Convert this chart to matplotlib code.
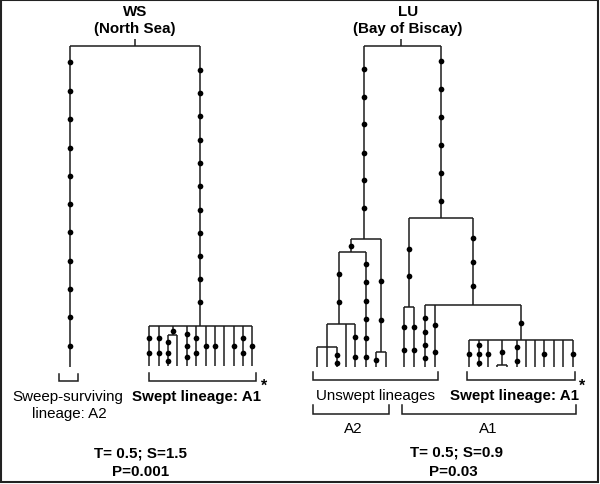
import matplotlib
matplotlib.use("Agg")
import matplotlib.pyplot as plt
from matplotlib.patches import Rectangle

plt.rcParams['font.family'] = ['Liberation Sans', 'DejaVu Sans']

# ---------------- WS (North Sea) tree ----------------
ws_vlines = [  # (x, y_top, y_bottom)
    (135, 40, 47), (70, 47, 368), (200, 47, 327),
    (149, 327, 367), (158.5, 327, 367), (172.5, 327, 335.7),
    (168, 335.7, 367), (177.3, 335.7, 367),
    (186.5, 327, 367), (196, 327, 367), (205.5, 327, 367), (215, 327, 367),
    (224.3, 327, 367), (233.5, 327, 367), (243, 327, 367), (252.3, 327, 367),
]
ws_hlines = [  # (y, x_left, x_right)
    (47, 70, 200), (327, 149, 252.3), (335.7, 168, 177.3),
]
ws_dots = {
    70: [63, 92, 120, 149, 177, 205, 233, 262, 290, 318, 347],
    200: [71, 94, 117, 141, 164, 187, 211, 234, 257, 280, 303],
    149: [339, 354], 158.5: [339, 354], 168: [343.3, 353.7, 362.3],
    172.5: [331.7], 186.5: [335, 346.7, 357.7], 196: [339, 354],
    205.5: [347], 215: [347], 233.5: [347], 243: [339, 354], 252.3: [347],
}

# ---------------- LU (Bay of Biscay) tree ----------------
lu_vlines = [
    (400.7, 40, 47), (364, 47, 240), (440.7, 47, 219.3),
    (350.7, 240, 253.3), (381, 240, 353.3), (376, 353.3, 368.3), (386, 353.3, 368.3),
    (339.3, 253.3, 325), (366, 253.3, 368.3),
    (326.7, 325, 368.3), (317.3, 348.3, 368.3), (336.7, 348.3, 368.3),
    (345.7, 325, 368.3), (355, 325, 368.3),
    (409.3, 219.3, 307.7), (404.3, 307.7, 368.3), (414.3, 307.7, 368.3),
    (473, 219.3, 305.7), (425, 305.7, 368.3), (435, 305.7, 368.3),
    (520.7, 305.7, 340.5),
    (469.3, 340.5, 368.3), (479, 340.5, 368.3), (487.7, 340.5, 368.3),
    (502.3, 340.5, 365.7), (497.3, 365.7, 368.3), (507.3, 365.7, 368.3),
    (516.7, 340.5, 368.3), (525.7, 340.5, 368.3), (535, 340.5, 368.3),
    (544, 340.5, 368.3), (553.7, 340.5, 368.3), (563, 340.5, 368.3),
    (572.7, 340.5, 368.3),
]
lu_hlines = [
    (47, 364, 440.7), (240, 350.7, 381), (219.3, 409.3, 473),
    (253.3, 339.3, 366), (353.3, 376, 386), (325, 326.7, 355),
    (348.3, 317.3, 336.7), (307.7, 404.3, 414.3), (305.7, 425, 520.7),
    (340.5, 469.3, 572.7), (365.7, 497.3, 507.3),
]
lu_dots = {
    364: [69.7, 97.7, 125, 153.7, 181.3, 209.3],
    440.7: [61.7, 90, 117.7, 145.7, 174, 202],
    350.7: [247.3], 381: [281.7, 320.7], 376: [361],
    339.3: [275, 302.7], 366: [264.7, 283.3, 302.3, 320, 338.7, 357.7],
    355: [337.5, 358.3], 336.7: [355.7, 364.3],
    409.3: [250, 276.7], 404.3: [327.7, 351], 414.3: [327.7, 351],
    473: [239, 262.7, 286.7], 425: [319.3, 332.7, 345.7, 359], 435: [325.7, 353.3],
    520.7: [324], 469.3: [355.3], 479: [345.7, 355.3, 364.3], 487.7: [355.3],
    502.3: [353.3], 516.7: [348.3, 361.5], 544: [355.3], 572.7: [355.3],
}

# brackets: (x_left, x_right, y_top, y_bottom)
brackets = [
    (59.3, 77.7, 375, 381.7), (149, 256, 374, 381.7),
    (313.3, 438.3, 372.7, 380.7), (466.7, 575, 372.7, 380.7),
    (313.3, 389.3, 405.7, 415), (401.7, 576, 405.7, 415),
]

# texts: (x, y, string, bold)
texts = [
    (135, 11.5, "WS", True), (135, 29.5, "(North Sea)", True),
    (407.7, 11.5, "LU", True), (407.7, 29.5, "(Bay of Biscay)", True),
    (68, 397, "Sweep-surviving", False), (69, 414.5, "lineage: A2", False),
    (197, 397, "Swept lineage: A1", True),
    (375.7, 396.5, "Unswept lineages", False),
    (514, 396.5, "Swept lineage: A1", True),
    (353.3, 429.5, "A2", False), (488.3, 429.5, "A1", False),
    (140.5, 453.5, "T= 0.5; S=1.5", True), (140.8, 472.5, "P=0.001", True),
    (456.3, 453, "T= 0.5; S=0.9", True), (453, 472, "P=0.03", True),
]
asterisks = [(264.5, 386), (582.5, 386)]

LC = '#1c1c1c'
fig = plt.figure(figsize=(6, 4.85), dpi=100)
ax = fig.add_axes([0, 0, 1, 1])
ax.set_xlim(0, 600)
ax.set_ylim(485, 0)
ax.axis('off')

for vl, hl, dots in [(ws_vlines, ws_hlines, ws_dots), (lu_vlines, lu_hlines, lu_dots)]:
    ax.vlines([v[0] for v in vl], [v[1] for v in vl], [v[2] for v in vl], colors=LC, lw=1.1)
    ax.hlines([h[0] for h in hl], [h[1] for h in hl], [h[2] for h in hl], colors=LC, lw=1.1)
    xs, ys = [], []
    for x, yl in dots.items():
        for y in yl:
            xs.append(x); ys.append(y)
    ax.plot(xs, ys, 'o', color='black', ms=4.1, mec='black', mew=0)

for x0, x1, yt, yb in brackets:
    ax.plot([x0, x0, x1, x1], [yt, yb, yb, yt], color=LC, lw=1.1, solid_joinstyle='miter')

for x, y, s, b in texts:
    ax.text(x, y, s, ha='center', va='center', fontsize=10.9,
            fontweight='bold' if b else 'normal', color='black')
for x, y in asterisks:
    ax.text(x, y, "*", ha='center', va='center', fontsize=11.5, fontweight='bold')

ax.add_patch(Rectangle((1, 1), 596.5, 482, fill=False, edgecolor='#222222', lw=1.5))

fig.savefig('out.png', dpi=100)
